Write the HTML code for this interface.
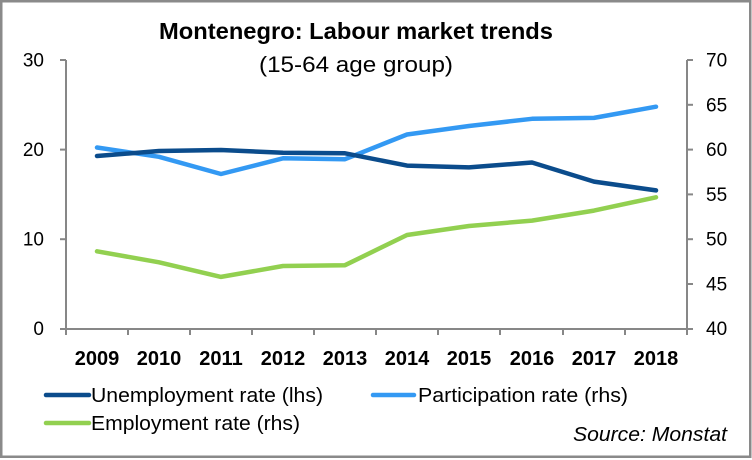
<!DOCTYPE html>
<html>
<head>
<meta charset="utf-8">
<style>
html,body{margin:0;padding:0;background:#fff;}
body{width:752px;height:460px;overflow:hidden;}
svg{display:block;}
text{font-family:"Liberation Sans",sans-serif;fill:#000;}
</style>
</head>
<body>
<svg width="752" height="460" viewBox="0 0 752 460" xmlns="http://www.w3.org/2000/svg">
  <rect x="0" y="0" width="752" height="460" fill="#fff"/>
  <rect x="1.25" y="1.25" width="749" height="455.5" fill="none" stroke="#8a8a8a" stroke-width="2.5"/>

  <!-- Title -->
  <text x="356" y="39" font-size="23" font-weight="bold" text-anchor="middle" textLength="394" lengthAdjust="spacingAndGlyphs">Montenegro: Labour market trends</text>
  <text x="356" y="72" font-size="22" text-anchor="middle" textLength="194" lengthAdjust="spacingAndGlyphs">(15-64 age group)</text>

  <!-- Axes -->
  <g stroke="#878787" stroke-width="2" fill="none">
    <line x1="66" y1="60" x2="66" y2="329"/>
    <line x1="687" y1="60" x2="687" y2="329"/>
    <line x1="60" y1="329" x2="693" y2="329"/>
    <!-- left ticks -->
    <line x1="60" y1="60" x2="66" y2="60"/>
    <line x1="60" y1="149.6" x2="66" y2="149.6"/>
    <line x1="60" y1="239.2" x2="66" y2="239.2"/>
    <!-- right ticks -->
    <line x1="687" y1="60" x2="693" y2="60"/>
    <line x1="687" y1="104.8" x2="693" y2="104.8"/>
    <line x1="687" y1="149.6" x2="693" y2="149.6"/>
    <line x1="687" y1="194.4" x2="693" y2="194.4"/>
    <line x1="687" y1="239.2" x2="693" y2="239.2"/>
    <line x1="687" y1="284" x2="693" y2="284"/>
    <!-- x ticks -->
    <line x1="66" y1="329" x2="66" y2="335"/>
    <line x1="128" y1="329" x2="128" y2="335"/>
    <line x1="190" y1="329" x2="190" y2="335"/>
    <line x1="252" y1="329" x2="252" y2="335"/>
    <line x1="314" y1="329" x2="314" y2="335"/>
    <line x1="376" y1="329" x2="376" y2="335"/>
    <line x1="438" y1="329" x2="438" y2="335"/>
    <line x1="500" y1="329" x2="500" y2="335"/>
    <line x1="563" y1="329" x2="563" y2="335"/>
    <line x1="625" y1="329" x2="625" y2="335"/>
    <line x1="687" y1="329" x2="687" y2="335"/>
  </g>

  <!-- Left tick labels -->
  <g font-size="19" text-anchor="end">
    <text x="44" y="66.5">30</text>
    <text x="44" y="156">20</text>
    <text x="44" y="245.7">10</text>
    <text x="44" y="335">0</text>
  </g>
  <!-- Right tick labels -->
  <g font-size="19" text-anchor="start">
    <text x="706" y="66.5">70</text>
    <text x="706" y="111.3">65</text>
    <text x="706" y="156">60</text>
    <text x="706" y="200.9">55</text>
    <text x="706" y="245.7">50</text>
    <text x="706" y="290.5">45</text>
    <text x="706" y="335">40</text>
  </g>

  <!-- X labels -->
  <g font-size="20" font-weight="bold" text-anchor="middle">
    <text x="97" y="365">2009</text>
    <text x="159" y="365">2010</text>
    <text x="221" y="365">2011</text>
    <text x="283" y="365">2012</text>
    <text x="345" y="365">2013</text>
    <text x="407" y="365">2014</text>
    <text x="469" y="365">2015</text>
    <text x="532" y="365">2016</text>
    <text x="594" y="365">2017</text>
    <text x="656" y="365">2018</text>
  </g>

  <!-- Series -->
  <g fill="none" stroke-width="4.5" stroke-linejoin="round" stroke-linecap="round">
    <polyline stroke="#92d050" points="97,251.3 159,262.3 221,276.9 283,266 345,265.2 407,235 469,226 532,220.6 594,210.6 656,197.3"/>
    <polyline stroke="#3399f3" points="97,147.5 159,156.8 221,174 283,158.3 345,159.2 407,134.5 469,126 532,118.8 594,117.9 656,106.7"/>
    <polyline stroke="#0b4c8c" points="97,156 159,151 221,150 283,152.8 345,153.3 407,165.6 469,167.4 532,162.5 594,181.6 656,190.4"/>
  </g>

  <!-- Legend -->
  <g stroke-width="4.5" stroke-linecap="round">
    <line x1="46" y1="395" x2="89" y2="395" stroke="#0b4c8c"/>
    <line x1="373" y1="395" x2="414" y2="395" stroke="#3399f3"/>
    <line x1="46" y1="423" x2="89" y2="423" stroke="#92d050"/>
  </g>
  <g font-size="20">
    <text x="91" y="402" textLength="232" lengthAdjust="spacingAndGlyphs">Unemployment rate (lhs)</text>
    <text x="418" y="402" textLength="210" lengthAdjust="spacingAndGlyphs">Participation rate (rhs)</text>
    <text x="91" y="430" textLength="209" lengthAdjust="spacingAndGlyphs">Employment rate (rhs)</text>
  </g>
  <text x="573" y="441" font-size="20" font-style="italic" textLength="154" lengthAdjust="spacingAndGlyphs">Source: Monstat</text>
</svg>
</body>
</html>
